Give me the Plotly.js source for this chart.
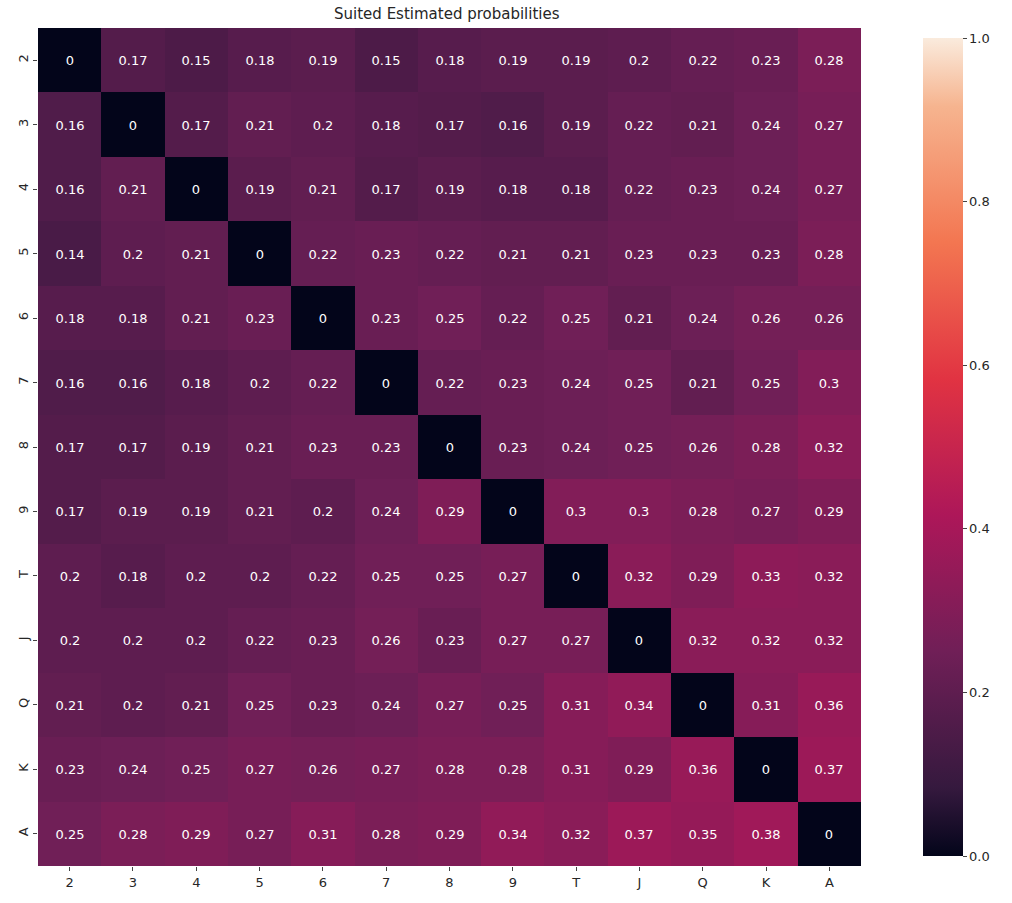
<!DOCTYPE html>
<html><head><meta charset="utf-8">
<script src="https://cdn.plot.ly/plotly-3.0.1.min.js"></script>
<style>body{margin:0;background:#fff}</style></head>
<body><div id="c" style="width:1012px;height:903px"></div>
<script>
const labels = ["2","3","4","5","6","7","8","9","T","J","Q","K","A"];
const values = [
[0,.17,.15,.18,.19,.15,.18,.19,.19,.2,.22,.23,.28],
[.16,0,.17,.21,.2,.18,.17,.16,.19,.22,.21,.24,.27],
[.16,.21,0,.19,.21,.17,.19,.18,.18,.22,.23,.24,.27],
[.14,.2,.21,0,.22,.23,.22,.21,.21,.23,.23,.23,.28],
[.18,.18,.21,.23,0,.23,.25,.22,.25,.21,.24,.26,.26],
[.16,.16,.18,.2,.22,0,.22,.23,.24,.25,.21,.25,.3],
[.17,.17,.19,.21,.23,.23,0,.23,.24,.25,.26,.28,.32],
[.17,.19,.19,.21,.2,.24,.29,0,.3,.3,.28,.27,.29],
[.2,.18,.2,.2,.22,.25,.25,.27,0,.32,.29,.33,.32],
[.2,.2,.2,.22,.23,.26,.23,.27,.27,0,.32,.32,.32],
[.21,.2,.21,.25,.23,.24,.27,.25,.31,.34,0,.31,.36],
[.23,.24,.25,.27,.26,.27,.28,.28,.31,.29,.36,0,.37],
[.25,.28,.29,.27,.31,.28,.29,.34,.32,.37,.35,.38,0]
];
const rocket = [[0,'#03051A'],[1/12,'#35193e'],[3/12,'#701f57'],[5/12,'#ad1759'],[7/12,'#e13342'],[9/12,'#f37651'],[11/12,'#f6b48f'],[1,'#FAEBDD']];
const text = values.map(r=>r.map(v=>String(v)));
Plotly.newPlot('c',[{type:'heatmap',x:labels,y:labels,z:values,zmin:0,zmax:1,colorscale:rocket,
 text:text,texttemplate:'%{text}',textfont:{color:'#ffffff',size:13,family:'DejaVu Sans'},
 colorbar:{x:1.063,xanchor:'left',thickness:40,len:1,lenmode:'fraction',y:0.5,outlinewidth:0,
  tickvals:[0,0.2,0.4,0.6,0.8,1],ticktext:['0.0','0.2','0.4','0.6','0.8','1.0'],ticks:'outside',ticklen:4,
  tickfont:{size:13,family:'DejaVu Sans',color:'#262626'}}}],
 {width:1012,height:903,margin:{l:38,r:146,t:28,b:37},paper_bgcolor:'#fff',plot_bgcolor:'#fff',
  title:{text:'Suited Estimated probabilities',x:0.4415,xanchor:'center',y:0.985,yanchor:'middle',font:{size:15,family:'DejaVu Sans',color:'#262626'}},
  xaxis:{type:'category',ticks:'outside',ticklen:4,showgrid:false,zeroline:false,tickfont:{size:13,family:'DejaVu Sans',color:'#262626'}},
  yaxis:{type:'category',autorange:'reversed',ticks:'outside',ticklen:4,tickangle:-90,showgrid:false,zeroline:false,tickfont:{size:13,family:'DejaVu Sans',color:'#262626'}}
 },{displayModeBar:false});
</script></body></html>
